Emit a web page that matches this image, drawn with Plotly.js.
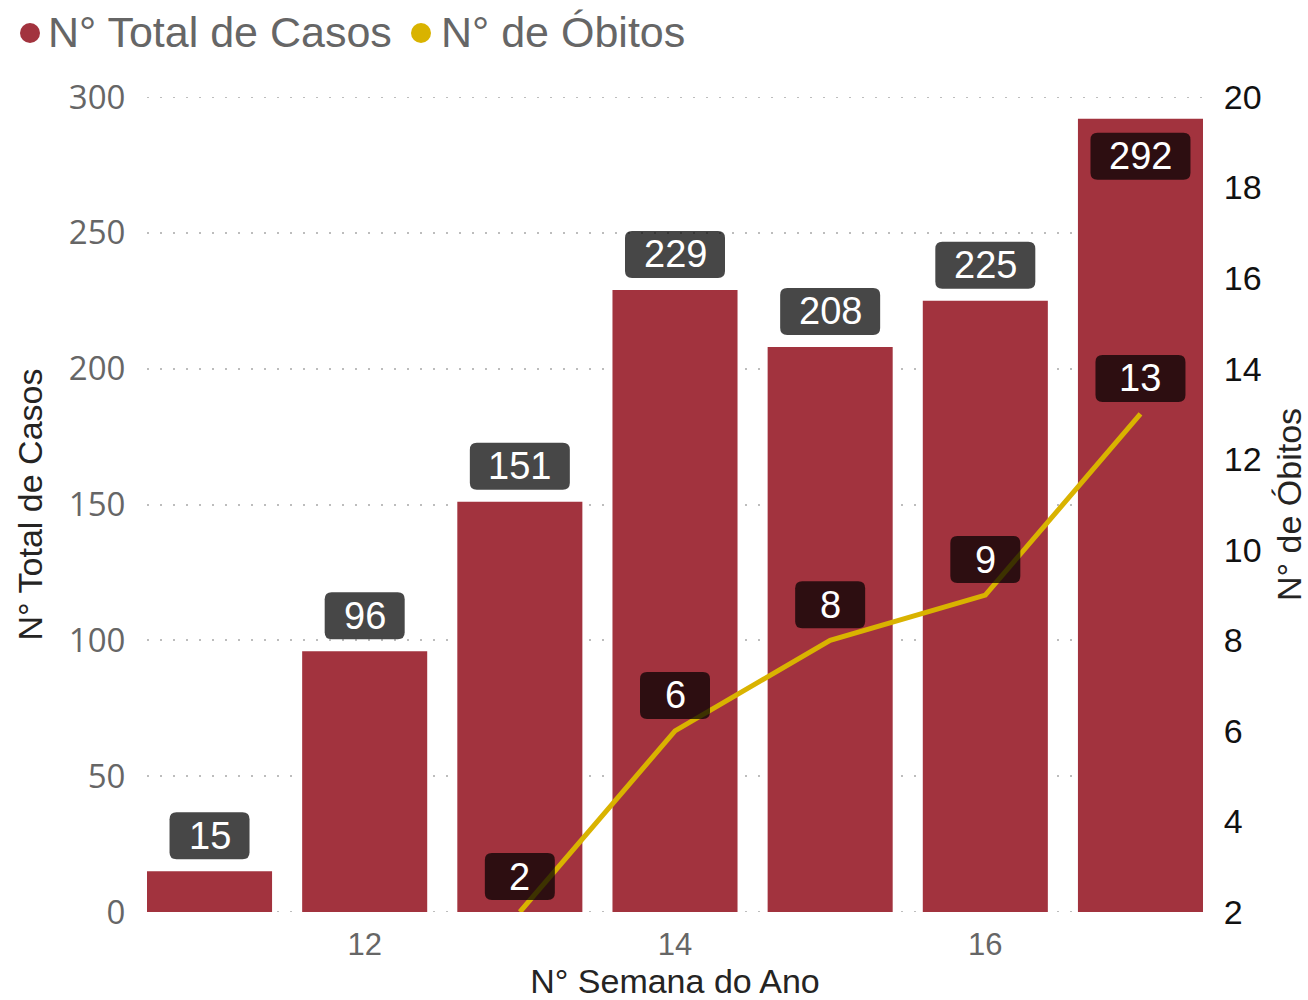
<!DOCTYPE html>
<html>
<head>
<meta charset="utf-8">
<script src="https://cdn.plot.ly/plotly-3.0.1.min.js"></script>
<style>html,body{margin:0;padding:0;background:#fff;}#chart{width:1308px;height:1000px;}</style>
</head>
<body>
<div id="chart"></div>
<script>
const semanas = [11, 12, 13, 14, 15, 16, 17];
const totalCasos = [15, 96, 151, 229, 208, 225, 292];
const semanasObitos = [13, 14, 15, 16, 17];
const obitos = [2, 6, 8, 9, 13];
const xTicks = [12, 14, 16];
const yLeftRange = [0, 300];
const yRightRange = [2, 20];
const seriesNames = ['N° Total de Casos', 'N° de Óbitos'];

const barColor = '#A2333E';
const lineColor = '#D9B300';
const boxFill = 'rgba(0,0,0,0.72)';
const gridColor = '#bdbdbd';
const gridDash = '2px,11px';
const W = 1308, H = 1000;
const M = {l: 147, r: 105, t: 97, b: 88};
const plotW = W - M.l - M.r;
const plotH = H - M.t - M.b;
const px2paperX = px => (px - M.l) / plotW;
const px2paperY = py => (H - M.b - py) / plotH;

function roundRect(w, h, r, yb) {
  const a = -w / 2, b = w / 2, y0 = yb, y1 = yb + h;
  return `M ${a + r},${y0} L ${b - r},${y0} Q ${b},${y0} ${b},${y0 + r} L ${b},${y1 - r} Q ${b},${y1} ${b - r},${y1} L ${a + r},${y1} Q ${a},${y1} ${a},${y1 - r} L ${a},${y0 + r} Q ${a},${y0} ${a + r},${y0} Z`;
}

const shapes = [];
const annotations = [];
const boxH = 47;

// edge gridlines (Plotly skips grid lines lying on the range ends)
yLeftRange.forEach(v => {
  shapes.push({type: 'line', xref: 'paper', yref: 'y', x0: 0, x1: 1, y0: v, y1: v,
    line: {color: gridColor, width: 2, dash: gridDash}, layer: 'below'});
});

function addLabel(x, y, yref, text, yb, w) {
  shapes.push({
    type: 'path', xref: 'x', yref: yref,
    xsizemode: 'pixel', ysizemode: 'pixel',
    xanchor: x, yanchor: y,
    path: roundRect(w, boxH, 7, yb),
    fillcolor: boxFill, line: {width: 0}, layer: 'above'
  });
  annotations.push({
    x: x, y: y, xref: 'x', yref: yref, text: text, showarrow: false,
    xanchor: 'center', yanchor: 'middle', yshift: yb + boxH / 2,
    font: {family: 'Liberation Sans, Arial, sans-serif', size: 38, color: '#ffffff'}
  });
}

semanas.forEach((s, i) => {
  const v = totalCasos[i];
  const s_ = String(v);
  const w = s_.length >= 3 ? 100 : (s_.length === 2 ? 80 : 70);
  const topPx = (yLeftRange[1] - v) / (yLeftRange[1] - yLeftRange[0]) * plotH;
  const yb = (topPx < 12 + boxH + 5) ? -(14 + boxH) : 12;
  addLabel(s, v, 'y', s_, yb, w);
});
semanasObitos.forEach((s, i) => {
  const v = obitos[i];
  const s_ = String(v);
  const w = s_.length >= 2 ? 90 : 70;
  addLabel(s, v, 'y2', s_, 12, w);
});

// legend (drawn as annotations so it does not push the margins)
const legendItems = [
  {name: seriesNames[0], color: barColor, dotX: 30, textX: 46},
  {name: seriesNames[1], color: lineColor, dotX: 421, textX: 439}
];
const legendY = 33;
legendItems.forEach(it => {
  shapes.push({type: 'circle', xref: 'paper', yref: 'paper',
    xsizemode: 'pixel', ysizemode: 'pixel',
    xanchor: px2paperX(it.dotX), yanchor: px2paperY(legendY),
    x0: -10, x1: 10, y0: -10, y1: 10,
    fillcolor: it.color, line: {width: 0}, layer: 'above'});
  annotations.push({xref: 'paper', yref: 'paper', x: px2paperX(it.textX), y: px2paperY(legendY - 1),
    xanchor: 'left', yanchor: 'middle', showarrow: false, text: it.name,
    font: {family: 'Liberation Sans, Arial, sans-serif', size: 43, color: '#666666'}});
});

const traces = [
  {type: 'bar', x: semanas, y: totalCasos, width: 0.806, marker: {color: barColor},
   name: seriesNames[0], showlegend: false, hoverinfo: 'x+y'},
  {type: 'scatter', mode: 'lines', x: semanasObitos, y: obitos, yaxis: 'y2',
   line: {color: lineColor, width: 5}, name: seriesNames[1], showlegend: false, cliponaxis: false}
];

const layout = {
  width: W, height: H,
  margin: {l: M.l, r: M.r, t: M.t, b: M.b, pad: 0},
  paper_bgcolor: '#ffffff', plot_bgcolor: '#ffffff',
  showlegend: false,
  xaxis: {
    range: [10.597, 17.403], tickvals: xTicks, ticktext: xTicks.map(String),
    showgrid: false, zeroline: false, showline: false, automargin: false,
    ticks: 'outside', ticklen: 5, tickcolor: 'rgba(0,0,0,0)',
    tickfont: {family: 'Liberation Sans, Arial, sans-serif', size: 31, color: '#666666'},
    title: {text: 'N° Semana do Ano', standoff: 23,
            font: {family: 'Liberation Sans, Arial, sans-serif', size: 34, color: '#252423'}}
  },
  yaxis: {
    range: yLeftRange, dtick: 50, tick0: 0, automargin: false,
    showgrid: true, gridcolor: gridColor, gridwidth: 2, griddash: gridDash,
    zeroline: false, showline: false,
    ticks: 'outside', ticklen: 14, tickcolor: 'rgba(0,0,0,0)',
    tickfont: {family: 'Open Sans, sans-serif', size: 33, color: '#666666'},
    title: {text: 'N° Total de Casos', standoff: 15,
            font: {family: 'Liberation Sans, Arial, sans-serif', size: 34, color: '#252423'}}
  },
  yaxis2: {
    range: yRightRange, dtick: 2, tick0: 2, overlaying: 'y', side: 'right', automargin: false,
    showgrid: false, zeroline: false, showline: false,
    ticks: 'outside', ticklen: 13, tickcolor: 'rgba(0,0,0,0)',
    tickfont: {family: 'Liberation Sans, Arial, sans-serif', size: 34, color: '#111111'},
    title: {text: 'N° de Óbitos', standoff: 19,
            font: {family: 'Liberation Sans, Arial, sans-serif', size: 34, color: '#252423'}}
  },
  shapes: shapes,
  annotations: annotations
};

Plotly.newPlot('chart', traces, layout, {displayModeBar: false, staticPlot: true});
</script>
</body>
</html>
